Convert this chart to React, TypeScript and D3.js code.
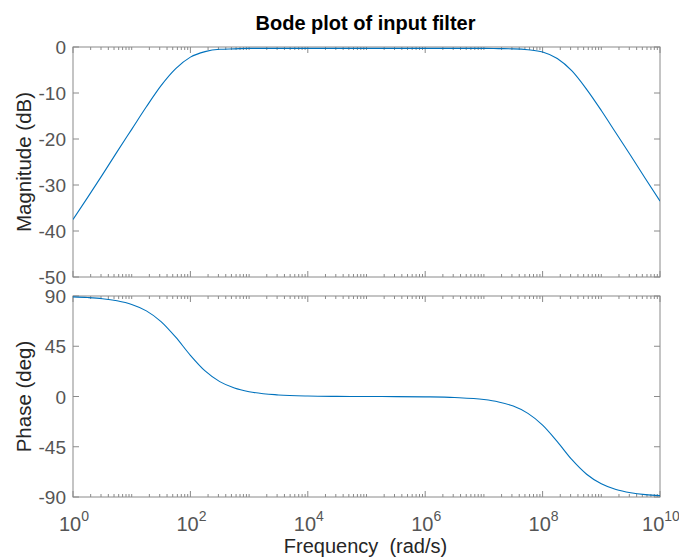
import * as d3 from "d3";

// frequency samples as powers of ten (rad/s)
const freqExp = [
  0, 0.25, 0.5, 0.75, 1, 1.25, 1.5, 1.75, 2, 2.25, 2.5, 2.75, 3, 3.5, 4, 4.5, 5,
  5.5, 6, 6.5, 7, 7.25, 7.5, 7.75, 8, 8.25, 8.5, 8.75, 9, 9.25, 9.5, 9.75, 10,
];
// magnitude in dB
const magDb = [
  -37.5, -32.7, -27.8, -22.8, -17.9, -13.0, -8.4, -4.7, -2.2, -1.0, -0.5, -0.4,
  -0.3, -0.3, -0.3, -0.3, -0.3, -0.3, -0.3, -0.3, -0.3, -0.35, -0.4, -0.6, -1.1,
  -2.5, -5.2, -9.2, -13.8, -18.7, -23.6, -28.6, -33.5,
];
// phase in degrees
const phaseDeg = [
  89.2, 88.6, 87.6, 85.7, 82.4, 76.7, 67.1, 53.1, 36.9, 22.9, 13.3, 7.6, 4.3,
  1.4, 0.4, 0.1, 0.0, -0.1, -0.3, -0.9, -2.7, -4.9, -8.6, -15.1, -25.6, -40.4,
  -56.6, -69.6, -78.2, -83.3, -86.2, -87.9, -88.8,
];

const magTicks = [0, -10, -20, -30, -40, -50];
const phaseTicks = [90, 45, 0, -45, -90];
const freqLabelExp = [0, 2, 4, 6, 8, 10];

const W = 679;
const H = 558;
const left = 73;
const right = 660;
const magTop = 47;
const magBottom = 277;
const phTop = 296;
const phBottom = 497;

const axisColor = "#8a8a8a";
const tickText = "#555555";
const lineColor = "#0072BD";
const font = "'Liberation Sans', Arial, Helvetica, sans-serif";

export default function App() {
  const x = d3.scaleLog().domain([1, 1e10]).range([left, right]);
  const yMag = d3.scaleLinear().domain([-50, 0]).range([magBottom, magTop]);
  const yPh = d3.scaleLinear().domain([-90, 90]).range([phBottom, phTop]);

  const magLine = d3
    .line<number>()
    .x((_, i) => x(Math.pow(10, freqExp[i])))
    .y((d) => yMag(d))
    .curve(d3.curveMonotoneX);
  const phLine = d3
    .line<number>()
    .x((_, i) => x(Math.pow(10, freqExp[i])))
    .y((d) => yPh(d))
    .curve(d3.curveMonotoneX);

  // log ticks: majors every other decade, minors at 2..9 and odd decades
  const major: number[] = freqLabelExp.map((e) => Math.pow(10, e));
  const minor: number[] = [];
  for (let e = 0; e < 10; e++) {
    for (let k = 1; k <= 9; k++) {
      const v = k * Math.pow(10, e);
      if (k === 1 && e % 2 === 0) continue;
      minor.push(v);
    }
  }

  const frame = (t: number, b: number, yTicks: number[], ys: (v: number) => number, id: string) => (
    <g key={id}>
      {minor.map((v, i) => (
        <g key={"m" + i}>
          <line x1={x(v)} x2={x(v)} y1={t} y2={t + 3} stroke={axisColor} />
          <line x1={x(v)} x2={x(v)} y1={b} y2={b - 3} stroke={axisColor} />
        </g>
      ))}
      {major.map((v, i) => (
        <g key={"M" + i}>
          <line x1={x(v)} x2={x(v)} y1={t} y2={t + 6} stroke={axisColor} />
          <line x1={x(v)} x2={x(v)} y1={b} y2={b - 6} stroke={axisColor} />
        </g>
      ))}
      {yTicks.map((v) => (
        <g key={"y" + v}>
          <line x1={left} x2={left + 6} y1={ys(v)} y2={ys(v)} stroke={axisColor} />
          <line x1={right} x2={right - 6} y1={ys(v)} y2={ys(v)} stroke={axisColor} />
          <text
            x={left - 7}
            y={ys(v)}
            dy="0.38em"
            textAnchor="end"
            fontSize={19}
            fill={tickText}
            fontFamily={font}
          >
            {v}
          </text>
        </g>
      ))}
      <rect
        x={left}
        y={t}
        width={right - left}
        height={b - t}
        fill="none"
        stroke={axisColor}
        strokeWidth={1}
      />
    </g>
  );

  return (
    <div style={{ position: "absolute", left: 0, top: 0 }}>
      <svg width={W} height={H} style={{ display: "block", background: "#fff" }}>
        <defs>
          <clipPath id="clipMag">
            <rect x={left} y={magTop - 1} width={right - left} height={magBottom - magTop + 2} />
          </clipPath>
          <clipPath id="clipPh">
            <rect x={left} y={phTop - 1} width={right - left} height={phBottom - phTop + 2} />
          </clipPath>
        </defs>

        {frame(magTop, magBottom, magTicks, yMag, "mag")}
        {frame(phTop, phBottom, phaseTicks, yPh, "ph")}

        <path
          d={magLine(magDb) || ""}
          fill="none"
          stroke={lineColor}
          strokeWidth={1.1}
          clipPath="url(#clipMag)"
        />
        <path
          d={phLine(phaseDeg) || ""}
          fill="none"
          stroke={lineColor}
          strokeWidth={1.1}
          clipPath="url(#clipPh)"
        />

        {freqLabelExp.map((e) => (
          <text
            key={e}
            x={x(Math.pow(10, e)) + 1}
            y={531}
            textAnchor="middle"
            fontSize={20}
            fill={tickText}
            fontFamily={font}
          >
            10
            <tspan dy={-10} fontSize={14}>
              {e}
            </tspan>
          </text>
        ))}

        <text
          x={(left + right) / 2 - 1}
          y={30}
          textAnchor="middle"
          fontSize={20}
          fontWeight="bold"
          fill="#000"
          fontFamily={font}
        >
          Bode plot of input filter
        </text>
        <text
          x={(left + right) / 2 - 1}
          y={553}
          textAnchor="middle"
          fontSize={20}
          fill="#262626"
          fontFamily={font}
          style={{ whiteSpace: "pre" }}
        >
          {"Frequency  (rad/s)"}
        </text>
        <text
          transform={`translate(31,${(magTop + magBottom) / 2}) rotate(-90)`}
          textAnchor="middle"
          fontSize={20.5}
          fill="#262626"
          fontFamily={font}
        >
          Magnitude (dB)
        </text>
        <text
          transform={`translate(31,${(phTop + phBottom) / 2}) rotate(-90)`}
          textAnchor="middle"
          fontSize={20.5}
          fill="#262626"
          fontFamily={font}
        >
          Phase (deg)
        </text>
      </svg>
    </div>
  );
}
